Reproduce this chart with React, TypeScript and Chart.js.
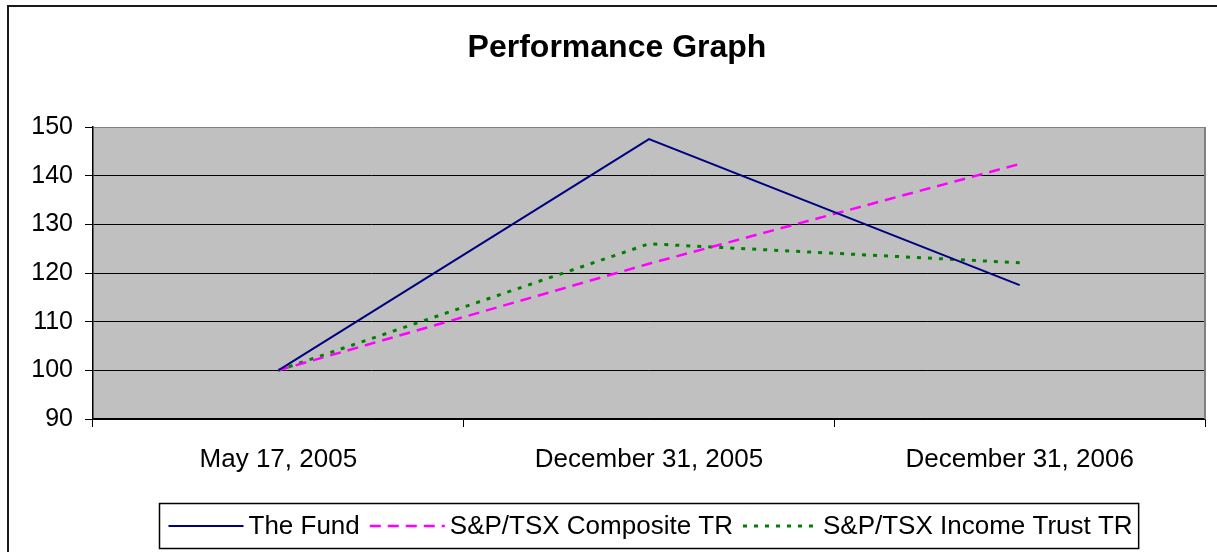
import React, { useEffect, useRef } from "react";
import { Chart, registerables } from "chart.js";

Chart.register(...registerables);

const categories = ["May 17, 2005", "December 31, 2005", "December 31, 2006"];
const seriesNames = ["The Fund", "S&P/TSX Composite TR", "S&P/TSX Income Trust TR"];
const fundValues = [100, 147.5, 117.5];
const compositeValues = [100, 121.9, 142.4];
const incomeTrustValues = [100, 126, 122.1];
const yMin = 90;
const yMax = 150;
const yStep = 10;

const FONT = "'Liberation Sans', Arial, Helvetica, sans-serif";

const framePlugin = {
  id: "frame",
  beforeDraw(chart: any) {
    const { ctx, chartArea: a } = chart;
    ctx.save();
    ctx.fillStyle = "#ffffff";
    ctx.fillRect(0, 0, chart.width, chart.height);
    ctx.fillStyle = "#C0C0C0";
    ctx.fillRect(a.left, a.top, a.right - a.left, a.bottom - a.top);
    ctx.fillStyle = "#1a1a1a";
    ctx.fillRect(7, 5, 2, chart.height - 5);
    ctx.fillRect(7, 5, chart.width - 7, 2);
    ctx.restore();
  },
  beforeDatasetsDraw(chart: any) {
    const { ctx, chartArea: a } = chart;
    ctx.save();
    ctx.strokeStyle = "#808080";
    ctx.lineWidth = 2;
    ctx.beginPath();
    ctx.moveTo(a.right, a.top);
    ctx.lineTo(a.right, a.bottom);
    ctx.stroke();
    ctx.restore();
  },
  afterDraw(chart: any) {
    const { ctx, chartArea: a } = chart;
    const datasets = chart.data.datasets;
    ctx.save();
    ctx.font = `26px ${FONT}`;
    const padL = 9, sample = 75, gapText = 5, gapItem = 10, padR = 6;
    const widths = datasets.map((d: any) => ctx.measureText(d.label).width);
    let total = padL + padR + gapItem * (datasets.length - 1);
    widths.forEach((w: number) => (total += sample + gapText + w));
    const cx = (a.left + a.right) / 2;
    const left = Math.round(cx - total / 2) + 0.5;
    const top = a.bottom + 84.5;
    const h = 45;
    ctx.strokeStyle = "#000";
    ctx.lineWidth = 1.5;
    ctx.strokeRect(left, top, total, h);
    const cy = top + h / 2;
    let x = left + padL;
    datasets.forEach((d: any, i: number) => {
      ctx.save();
      ctx.strokeStyle = d.borderColor;
      ctx.lineWidth = d.borderWidth;
      ctx.setLineDash(d.borderDash || []);
      ctx.beginPath();
      ctx.moveTo(x, cy);
      ctx.lineTo(x + sample, cy);
      ctx.stroke();
      ctx.restore();
      x += sample + gapText;
      ctx.fillStyle = "#000";
      ctx.textBaseline = "middle";
      ctx.textAlign = "left";
      ctx.fillText(d.label, x, cy + 1);
      x += widths[i] + gapItem;
    });
    ctx.restore();
  },
};

export default function App() {
  const ref = useRef<HTMLCanvasElement | null>(null);
  useEffect(() => {
    if (!ref.current) return;
    const chart = new Chart(ref.current, {
      type: "line",
      data: {
        labels: categories,
        datasets: [
          {
            label: seriesNames[0],
            data: fundValues,
            borderColor: "#000080",
            borderWidth: 2,
            pointRadius: 0,
            tension: 0,
            fill: false,
          },
          {
            label: seriesNames[1],
            data: compositeValues,
            borderColor: "#FF00FF",
            borderWidth: 2.5,
            borderDash: [11, 7],
            pointRadius: 0,
            tension: 0,
            fill: false,
          },
          {
            label: seriesNames[2],
            data: incomeTrustValues,
            borderColor: "#008000",
            borderWidth: 3,
            borderDash: [4, 7],
            pointRadius: 0,
            tension: 0,
            fill: false,
          },
        ],
      },
      options: {
        responsive: false,
        animation: false,
        devicePixelRatio: 1,
        layout: { padding: { left: 18, right: 1, top: 0, bottom: 0 } },
        plugins: {
          legend: { display: false },
          tooltip: { enabled: false },
          title: {
            display: true,
            text: "Performance Graph",
            color: "#000",
            font: { family: FONT, size: 32, weight: "bold", lineHeight: 1.2 },
            padding: { top: 29, bottom: 59.6 },
          },
        },
        scales: {
          x: {
            offset: true,
            grid: {
              display: true,
              offset: true,
              drawOnChartArea: false,
              drawTicks: true,
              tickLength: 8,
              tickColor: "#000",
            },
            border: { display: true, color: "#000", width: 1.5 },
            ticks: {
              color: "#000",
              font: { family: FONT, size: 26 },
              padding: 17,
              maxRotation: 0,
              autoSkip: false,
            },
            afterFit: (s: any) => {
              s.height = 133;
            },
          },
          y: {
            min: yMin,
            max: yMax,
            grid: {
              color: (c: any) => (c.tick && c.tick.value === yMax ? "#808080" : "#000"),
              lineWidth: 1,
              drawTicks: true,
              tickLength: 8,
              tickColor: "#000",
            },
            border: { display: true, color: "#000", width: 1.5 },
            ticks: {
              stepSize: yStep,
              color: "#000",
              font: { family: FONT, size: 25 },
              padding: 12,
            },
            afterFit: (s: any) => {
              s.width = 75;
            },
          },
          y2: {
            type: "linear",
            position: "right",
            display: true,
            grid: { display: false, drawTicks: false },
            border: { display: false },
            ticks: { display: false },
            afterFit: (s: any) => {
              s.width = 11;
            },
          },
        },
      },
      plugins: [framePlugin],
    } as any);
    return () => chart.destroy();
  }, []);
  return (
    <div
      style={{
        position: "fixed",
        left: 0,
        top: 0,
        width: 1217,
        height: 552,
        background: "#fff",
        overflow: "hidden",
      }}
    >
      <canvas ref={ref} width={1217} height={552} style={{ display: "block", width: 1217, height: 552 }} />
    </div>
  );
}
